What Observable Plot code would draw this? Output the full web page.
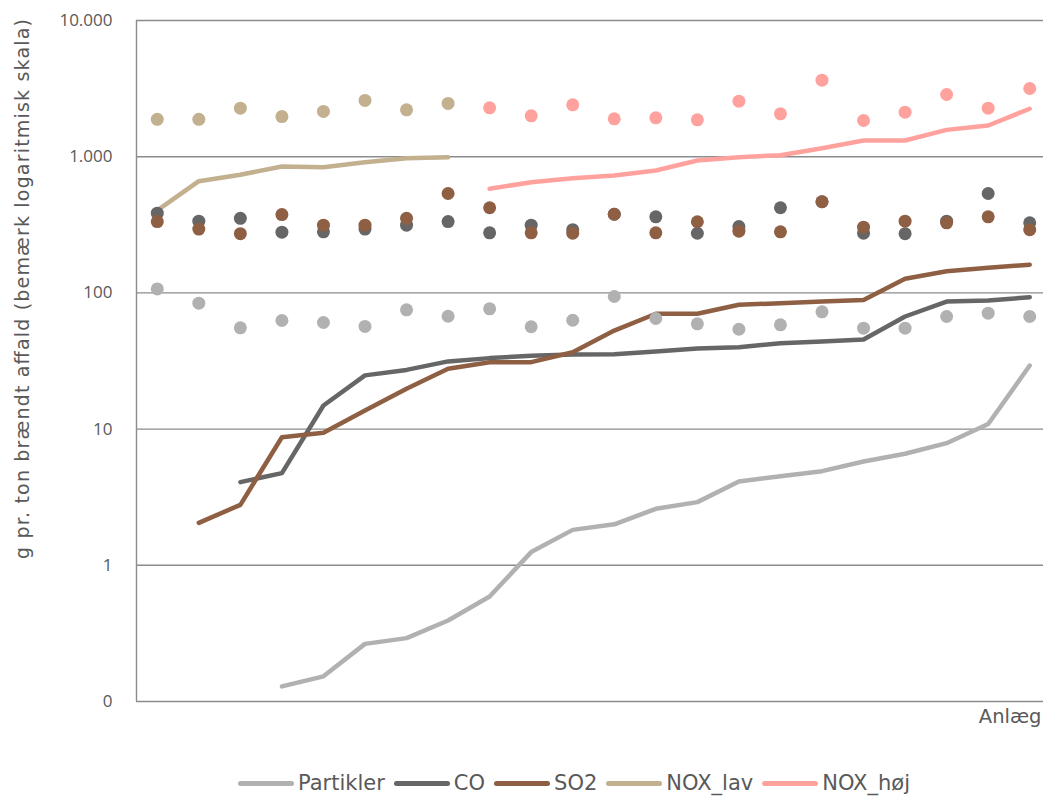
<!DOCTYPE html>
<html>
<head>
<meta charset="utf-8">
<script src="https://cdn.jsdelivr.net/npm/d3@7"></script>
<script src="https://cdn.jsdelivr.net/npm/@observablehq/plot@0.6"></script>
<style>
  html, body { margin: 0; padding: 0; background: #fff; }
  #chart { width: 1043px; }
  .legend { display: flex; justify-content: flex-start; align-items: center; margin-top: 26px; height: 25px;
    padding-left: 238px; font-family: "DejaVu Sans", sans-serif; font-size: 21px; line-height: 25px; color: #595959; }
  .legend .item { display: flex; align-items: center; margin-right: 9px; white-space: nowrap; }
  .legend .swatch { width: 56px; height: 5px; border-radius: 3px; margin-right: 4px; }
</style>
</head>
<body>
<div id="chart"></div>
<script>
// --- data (22 anlæg, values in g pr. ton brændt affald) ---
const anlaeg = d3.range(22);
const seriesNames = ["Partikler", "CO", "SO2", "NOX_lav", "NOX_høj"];
const seriesColors = ["#b1b1b1", "#666666", "#8f5f44", "#c2b08f", "#ffa29e"];

const partiklerLine = [null, null, null, 0.129, 0.153, 0.265, 0.292, 0.393, 0.59, 1.25, 1.82, 2.0, 2.6, 2.91, 4.12, 4.51, 4.91, 5.78, 6.59, 7.88, 10.9, 29.3];
const coLine        = [null, null, 4.08, 4.75, 14.9, 24.8, 27.2, 31.4, 33.2, 34.5, 35.3, 35.5, 37.1, 39.1, 39.9, 42.7, 44.0, 45.5, 67.1, 86.4, 87.9, 93.0];
const so2Line       = [null, 2.05, 2.78, 8.72, 9.39, 13.7, 19.8, 27.7, 31.0, 31.0, 36.7, 52.9, 70.3, 70.3, 81.8, 84.0, 86.4, 88.7, 127, 144, 153, 161];
const noxLavLine    = [403, 661, 737, 847, 837, 912, 975, 991, null, null, null, null, null, null, null, null, null, null, null, null, null, null];
const noxHojLine    = [null, null, null, null, null, null, null, null, 581, 650, 695, 728, 792, 938, 991, 1026, 1154, 1315, 1315, 1574, 1694, 2249];

const partiklerDots = [107, 84, 55.4, 62.7, 60.6, 56.7, 75.1, 67.4, 76.4, 56.4, 63.0, 94.1, 64.9, 59.3, 54.1, 58.3, 72.6, 55.1, 55.1, 67.1, 71.0, 67.1];
const coDots        = [385, 336, 353, 279, 281, 294, 314, 334, 276, 314, 291, 378, 362, 274, 307, 422, 467, 274, 272, 336, 537, 327];
const so2Dots       = [334, 294, 272, 376, 314, 314, 353, 537, 422, 276, 274, 378, 276, 333, 284, 281, 467, 304, 336, 327, 362, 291];
const noxLavDots    = [1880, 1880, 2270, 1970, 2150, 2590, 2210, 2460, null, null, null, null, null, null, null, null, null, null, null, null, null, null];
const noxHojDots    = [null, null, null, null, null, null, null, null, 2286, 1996, 2404, 1897, 1930, 1866, 2556, 2065, 3647, 1845, 2122, 2862, 2270, 3169];

const yTicks = [0.1, 1, 10, 100, 1000, 10000];
const yTickLabels = ["0", "1", "10", "100", "1.000", "10.000"];
const yTitle = "g pr. ton brændt affald (bemærk logaritmisk skala)";
const xTitle = "Anlæg";

// --- build tables ---
const lineSets = [partiklerLine, coLine, so2Line, noxLavLine, noxHojLine];
const dotSets = [partiklerDots, coDots, so2Dots, noxLavDots, noxHojDots];
const toRows = (arr, s) => anlaeg.map(i => ({i, v: arr[i], s})).filter(d => d.v != null);

const marks = [];
marks.push(Plot.ruleY(yTicks, {stroke: "#8c8c8c", strokeWidth: 1.4}));
marks.push(Plot.ruleX([-0.5], {y1: 0.1, y2: 10000, stroke: "#8c8c8c", strokeWidth: 1.4}));
lineSets.forEach((arr, k) => {
  marks.push(Plot.line(toRows(arr, seriesNames[k]), {x: "i", y: "v", stroke: seriesColors[k], strokeWidth: 4.5, strokeLinecap: "round", strokeLinejoin: "round"}));
});
dotSets.forEach((arr, k) => {
  marks.push(Plot.dot(toRows(arr, seriesNames[k]), {x: "i", y: "v", r: 6.5, fill: seriesColors[k], stroke: "none"}));
});
marks.push(Plot.axisY(yTicks, {tickSize: 0, tickPadding: 24, tickFormat: d => yTickLabels[yTicks.indexOf(d)],
  fontSize: 17, fontFamily: "Open Sans, Noto Sans, sans-serif", fill: "#595959", label: null}));
marks.push(Plot.text([yTitle], {frameAnchor: "left", textAnchor: "middle", dx: -114, dy: -72, rotate: -90, text: d => d,
  fontSize: 19, fill: "#595959", fontFamily: "DejaVu Sans, sans-serif"}));
marks.push(Plot.text([xTitle], {frameAnchor: "bottom-right", textAnchor: "end", dx: -2, dy: 21, text: d => d,
  fontSize: 19.5, fill: "#595959", fontFamily: "DejaVu Sans, sans-serif"}));

const chart = Plot.plot({
  width: 1043,
  height: 745,
  marginLeft: 136,
  marginRight: 0,
  marginTop: 20,
  marginBottom: 44,
  style: {fontFamily: "DejaVu Sans, sans-serif", background: "#fff", overflow: "visible"},
  x: {type: "linear", domain: [-0.5, 21.5], range: [136, 1050], axis: null},
  y: {type: "log", domain: [0.1, 10000]},
  marks
});
// stretch the y title to the reference's length
d3.select(chart).selectAll("text").filter(function() { return this.textContent === yTitle; })
  .attr("textLength", 540).attr("lengthAdjust", "spacing");
document.getElementById("chart").appendChild(chart);

// legend
const legend = document.createElement("div");
legend.className = "legend";
seriesNames.forEach((name, k) => {
  const item = document.createElement("div");
  item.className = "item";
  const sw = document.createElement("span");
  sw.className = "swatch";
  sw.style.background = seriesColors[k];
  const lab = document.createElement("span");
  lab.textContent = name;
  item.appendChild(sw);
  item.appendChild(lab);
  legend.appendChild(item);
});
document.getElementById("chart").appendChild(legend);
</script>
</body>
</html>
